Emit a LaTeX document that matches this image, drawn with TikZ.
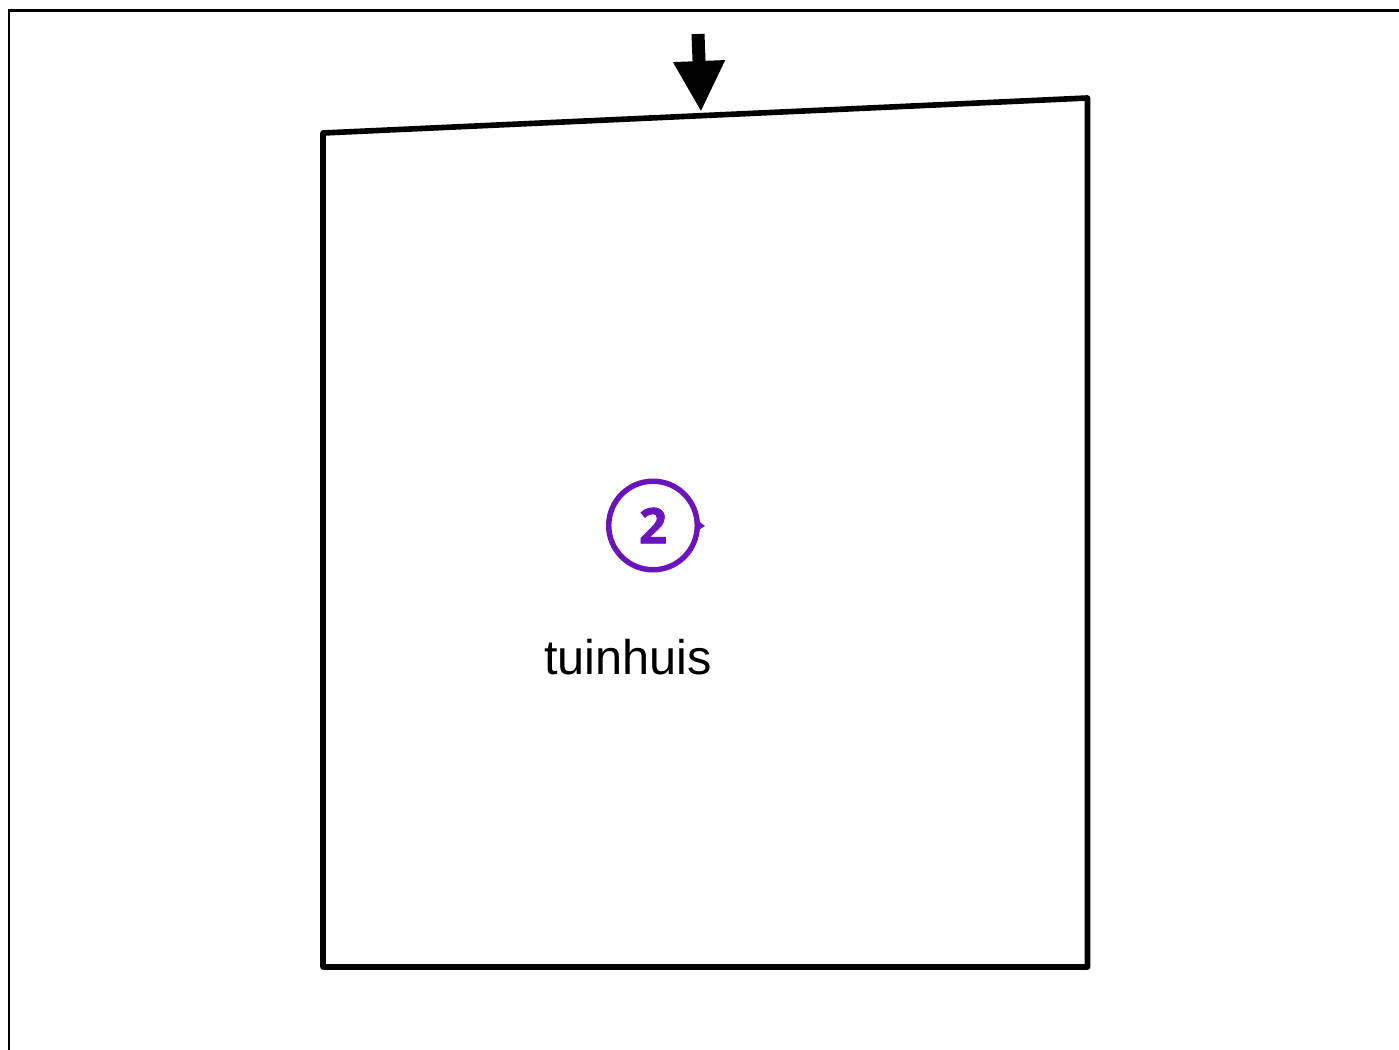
\documentclass[tikz,border=0pt]{standalone}
\usepackage{fontspec}
\setmainfont{Liberation Sans}
\newfontfamily\badgefont[FakeBold=1.2]{Open Sans}
\usetikzlibrary{arrows.meta}
\definecolor{badgepurple}{HTML}{6A14BE}
\tikzset{
    wall/.style={line width=3.2pt, line join=round, line cap=round},
    frameline/.style={line width=1.7pt, line join=miter},
    badge/.style={circle, draw=badgepurple, line width=3.1pt, minimum size=50.4pt, inner sep=0pt, text=badgepurple, font=\badgefont\bfseries\fontsize{28pt}{28pt}\selectfont},
    label/.style={font=\fontsize{27.7pt}{30pt}\selectfont, inner sep=0pt}
}
\begin{document}
\begin{tikzpicture}[x=0.02cm,y=-0.02cm]
        \useasboundingbox (0,0) rectangle (1399,1050);
        \draw[frameline] (9,1050) -- (9,11) -- (1399,11);
        \draw[wall] (323,133) -- (1087.5,98) -- (1087.5,967) -- (323,967) -- cycle;

        \coordinate (tail) at (698,34);
        \coordinate (roof) at (701,112);
        \draw[line width=7.4pt, -{Triangle[length=29pt,width=27.5pt]}] (tail) -- (roof);

        \node[badge] (two) at (653,525.5) {2};
        \fill[badgepurple] (697,520) -- (705,526) -- (697,531) -- cycle;
        \node[label, anchor=center] (house) at (628,657) {tuinhuis};
    \end{tikzpicture}
\end{document}
